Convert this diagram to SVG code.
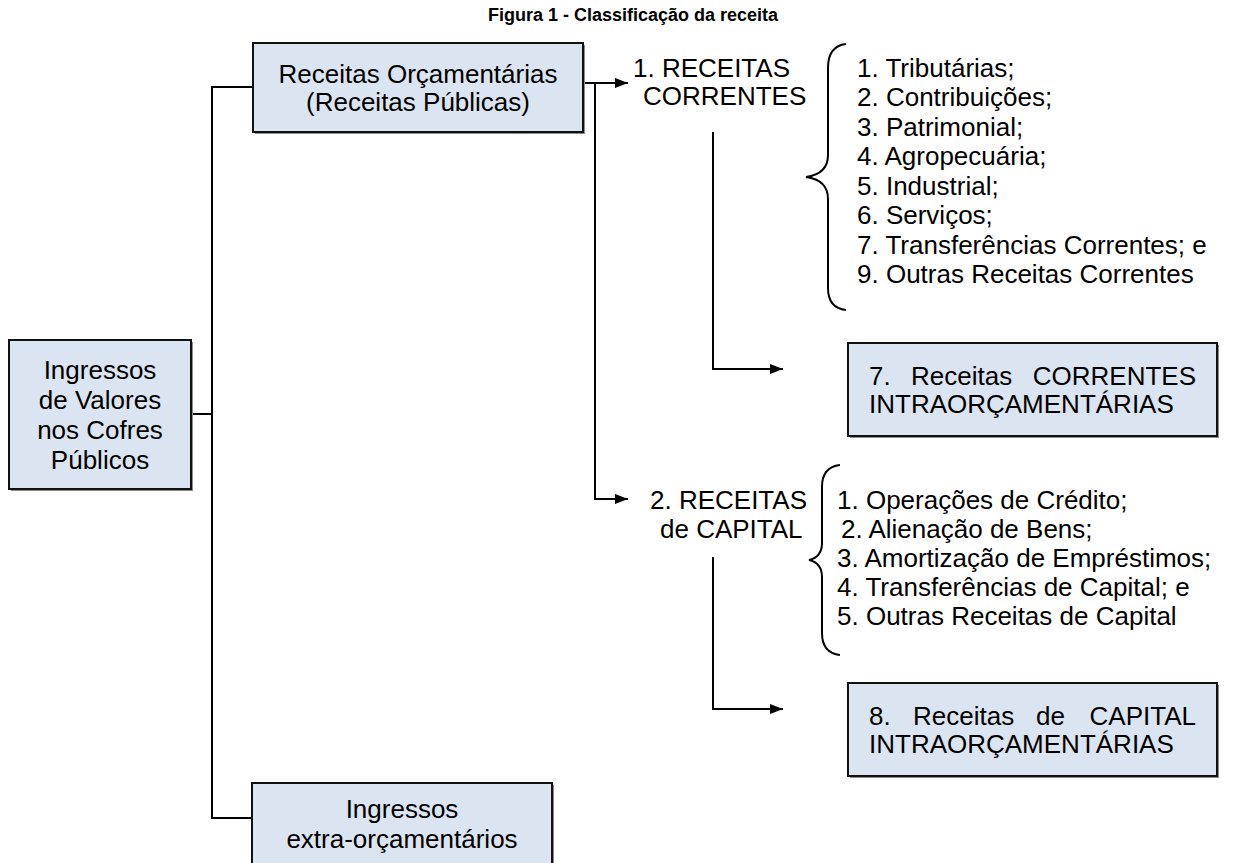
<svg xmlns="http://www.w3.org/2000/svg" width="1234" height="863" viewBox="0 0 1234 863">
<style>
  text { font-family: "Liberation Sans", Arial, sans-serif; font-size: 26px; fill: #000; }
  .title { font-weight: bold; font-size: 18px; }
  .box { fill: #dbe5f1; stroke: #111; stroke-width: 2; }
  .shadow { fill: #8c8c8c; }
  .conn { fill: none; stroke: #000; stroke-width: 2; }
  .c { text-anchor: middle; }
</style>
<defs>
  <marker id="arrow" viewBox="0 0 13 10" refX="13" refY="5" markerWidth="13" markerHeight="10" markerUnits="userSpaceOnUse" orient="auto">
    <path d="M0,0 L13,5 L0,10 Z" fill="#000"/>
  </marker>
</defs>
<rect width="1234" height="863" fill="#fff"/>
<text class="title" x="488" y="21">Figura 1 - Classificação da receita</text>

<g id="connectors">
  <path class="conn" d="M253 87 H212 V818 H252"/>
  <path class="conn" d="M191 414 H212"/>
  <path class="conn" d="M583 83 H628" marker-end="url(#arrow)"/>
  <path class="conn" d="M595 83 V499 H628" marker-end="url(#arrow)"/>
  <path class="conn" d="M713 132 V369 H783" marker-end="url(#arrow)"/>
  <path class="conn" d="M713 557 V709 H783" marker-end="url(#arrow)"/>
  <path class="conn" d="M846 44 Q828 46 828 68 L828 155 Q828 174 806 177 Q828 180 828 199 L828 288 Q828 308 846 310"/>
  <path class="conn" d="M840 465 Q822 467 822 487 L822 543 Q822 557 809 560 Q822 563 822 577 L822 633 Q822 653 840 655"/>
</g>

<g id="ingressos">
  <rect class="shadow" x="11" y="342" width="182" height="149"/>
  <rect class="box" x="9" y="340" width="182" height="149"/>
  <text class="c" x="100" y="379">Ingressos</text>
  <text class="c" x="100" y="409">de Valores</text>
  <text class="c" x="100" y="439">nos Cofres</text>
  <text class="c" x="100" y="469">Públicos</text>
</g>

<g id="orcamentarias">
  <rect class="shadow" x="255" y="45" width="330" height="89"/>
  <rect class="box" x="253" y="43" width="330" height="89"/>
  <text class="c" x="418" y="83">Receitas Orçamentárias</text>
  <text class="c" x="418" y="111">(Receitas Públicas)</text>
</g>

<g id="extra">
  <rect class="shadow" x="254" y="785" width="300" height="100"/>
  <rect class="box" x="252" y="783" width="300" height="100"/>
  <text class="c" x="402" y="818">Ingressos</text>
  <text class="c" x="402" y="848">extra-orçamentários</text>
</g>

<g id="correntes">
  <text x="633" y="77">1. RECEITAS</text>
  <text x="643" y="105">CORRENTES</text>
</g>

<g id="lista-correntes">
  <text x="857" y="77">1. Tributárias;</text>
  <text x="857" y="106">2. Contribuições;</text>
  <text x="857" y="136">3. Patrimonial;</text>
  <text x="857" y="165">4. Agropecuária;</text>
  <text x="857" y="195">5. Industrial;</text>
  <text x="857" y="224">6. Serviços;</text>
  <text x="857" y="254">7. Transferências Correntes; e</text>
  <text x="857" y="283">9. Outras Receitas Correntes</text>
</g>

<g id="intra-correntes">
  <rect class="shadow" x="850" y="345" width="369" height="93"/>
  <rect class="box" x="848" y="343" width="369" height="93"/>
  <text x="869" y="385">7.</text>
  <text x="911" y="385">Receitas</text>
  <text x="1196" y="385" text-anchor="end">CORRENTES</text>
  <text x="869" y="413">INTRAORÇAMENTÁRIAS</text>
</g>

<g id="capital">
  <text x="650" y="509">2. RECEITAS</text>
  <text x="660" y="538">de CAPITAL</text>
</g>

<g id="lista-capital">
  <text x="837" y="509">1. Operações de Crédito;</text>
  <text x="841" y="538">2. Alienação de Bens;</text>
  <text x="837" y="567">3. Amortização de Empréstimos;</text>
  <text x="837" y="596">4. Transferências de Capital; e</text>
  <text x="837" y="625">5. Outras Receitas de Capital</text>
</g>

<g id="intra-capital">
  <rect class="shadow" x="850" y="685" width="369" height="93"/>
  <rect class="box" x="848" y="683" width="369" height="93"/>
  <text x="869" y="725">8.</text>
  <text x="913" y="725">Receitas</text>
  <text x="1036" y="725">de</text>
  <text x="1196" y="725" text-anchor="end">CAPITAL</text>
  <text x="869" y="753">INTRAORÇAMENTÁRIAS</text>
</g>
</svg>
